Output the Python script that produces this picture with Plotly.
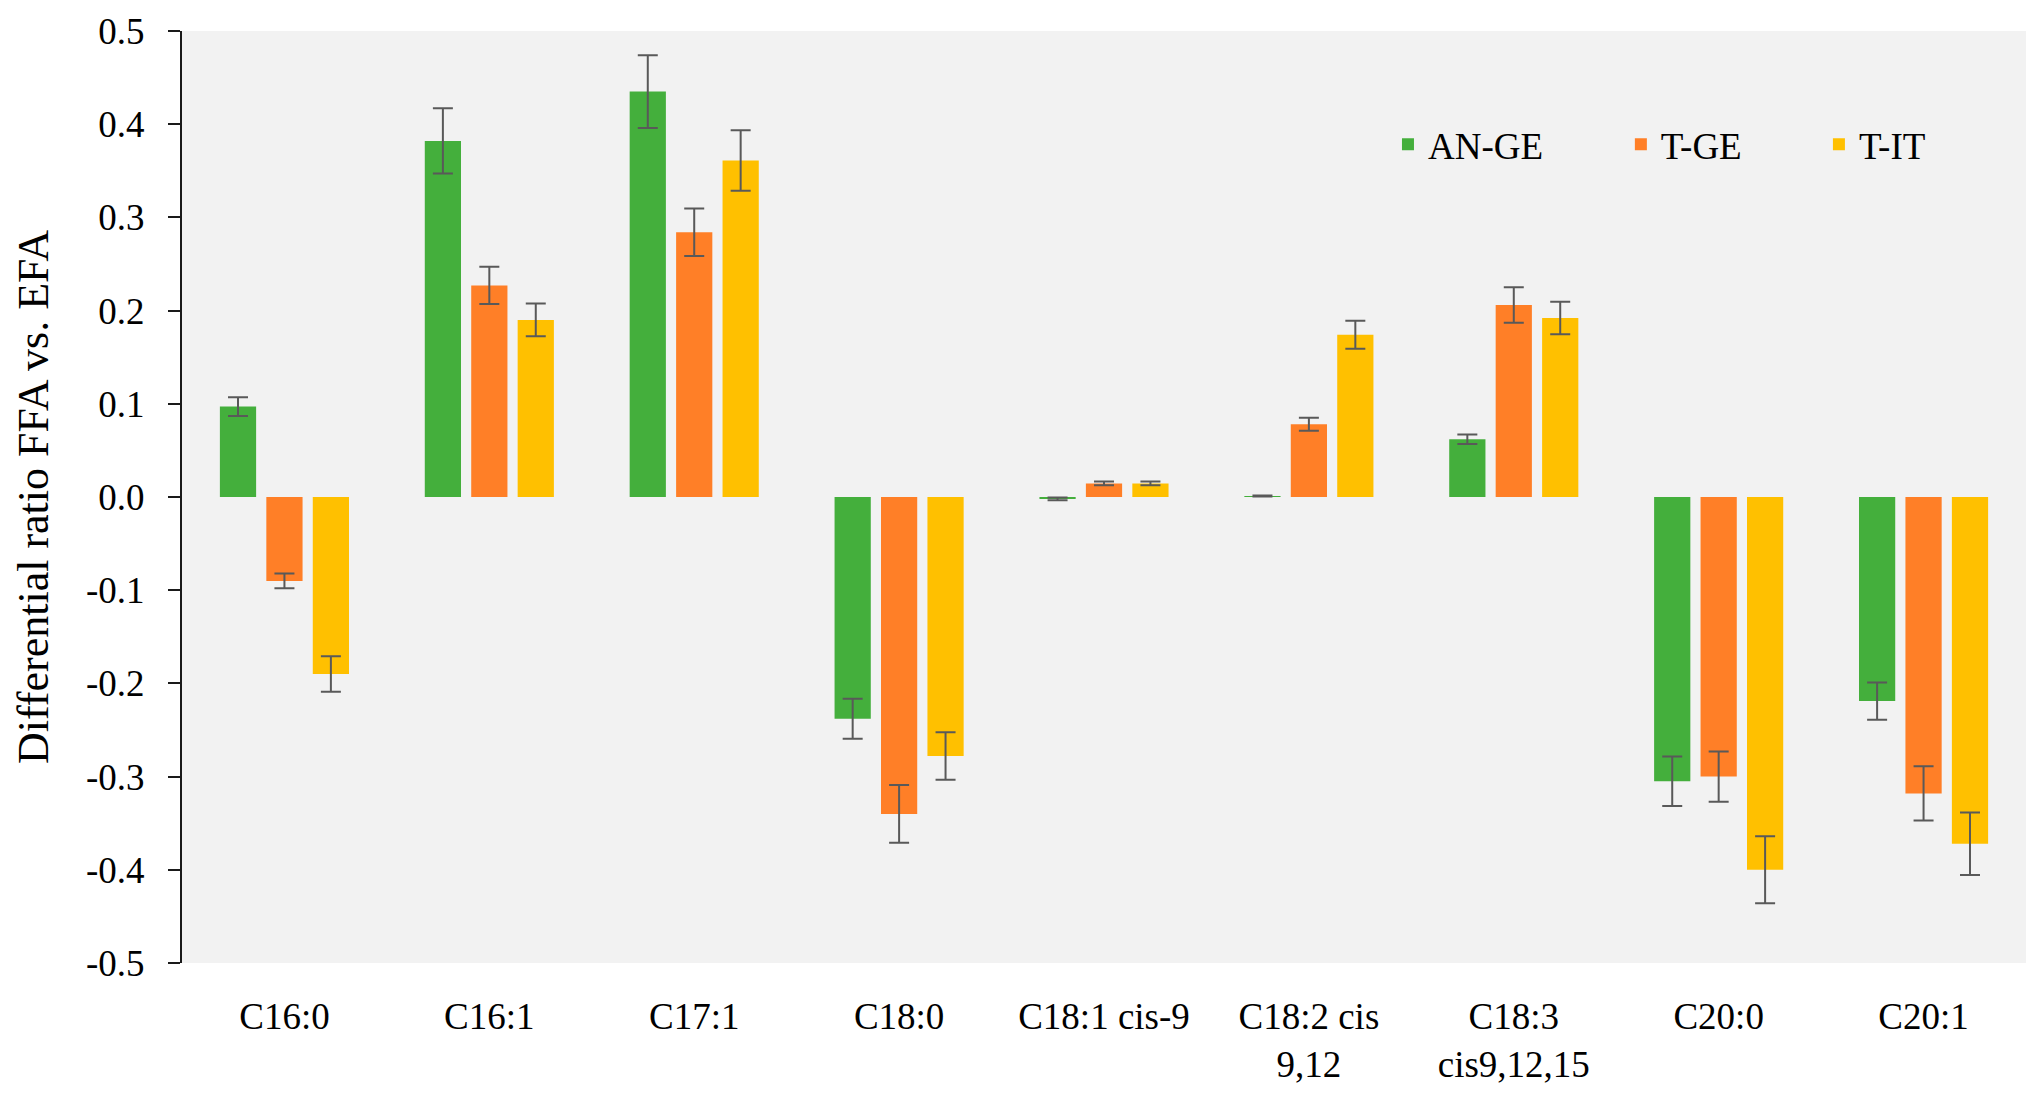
import plotly.graph_objects as go

categories = ["C16:0", "C16:1", "C17:1", "C18:0", "C18:1 cis-9",
              "C18:2 cis<br>9,12", "C18:3<br>cis9,12,15", "C20:0", "C20:1"]
series_names = ["AN-GE", "T-GE", "T-IT"]
an_ge = [0.097, 0.382, 0.435, -0.238, -0.002, 0.001, 0.062, -0.305, -0.219]
an_ge_err = [0.010, 0.035, 0.039, 0.0215, 0.0015, 0.0005, 0.005, 0.0265, 0.020]
t_ge = [-0.090, 0.227, 0.284, -0.340, 0.0145, 0.078, 0.206, -0.300, -0.318]
t_ge_err = [0.008, 0.020, 0.0255, 0.031, 0.002, 0.007, 0.019, 0.027, 0.029]
t_it = [-0.190, 0.190, 0.361, -0.278, 0.0145, 0.174, 0.192, -0.400, -0.372]
t_it_err = [0.019, 0.0175, 0.0325, 0.0255, 0.002, 0.015, 0.0175, 0.036, 0.0335]
colors = ["#44AF3C", "#FF7F27", "#FFC000"]
ytick_vals = [-0.5, -0.4, -0.3, -0.2, -0.1, 0.0, 0.1, 0.2, 0.3, 0.4, 0.5]
ytick_text = ["-0.5", "-0.4", "-0.3", "-0.2", "-0.1", "0.0", "0.1", "0.2", "0.3", "0.4", "0.5"]
boundary_ticks = [i - 0.5 for i in range(len(categories) + 1)]

FONT = "Liberation Serif"
FS = 37

legend_ids = ["legend", "legend2", "legend3"]
legend_x = [0.6540, 0.7803, 0.8877]

fig = go.Figure()
for name, vals, errs, col, lid in zip(series_names, [an_ge, t_ge, t_it],
                                      [an_ge_err, t_ge_err, t_it_err], colors,
                                      legend_ids):
    fig.add_trace(go.Bar(
        x=categories, y=vals, name=name, legend=lid,
        marker=dict(color=col, line=dict(color=col, width=0)),
        error_y=dict(type="data", array=errs, visible=True,
                     color="#595959", thickness=2, width=10),
    ))

legend_common = dict(orientation="h", y=0.878, xanchor="left", yanchor="middle",
                     bgcolor="rgba(0,0,0,0)", font=dict(family=FONT, size=FS))

fig.update_layout(
    width=2035, height=1090,
    margin=dict(l=174, r=17, t=23, b=135, autoexpand=False),
    paper_bgcolor="white",
    plot_bgcolor="#F2F2F2",
    barmode="group",
    bargap=0.32,
    bargroupgap=0.22,
    font=dict(family=FONT, size=FS, color="#000000"),
    showlegend=True,
    legend=dict(x=legend_x[0], **legend_common),
    legend2=dict(x=legend_x[1], **legend_common),
    legend3=dict(x=legend_x[2], **legend_common),
    xaxis=dict(
        type="category", showline=False, ticks="", showgrid=False,
        zeroline=False, tickfont=dict(family=FONT, size=FS),
        ticklabelstandoff=28,
    ),
    xaxis2=dict(
        overlaying="x", anchor="free", position=0.5, side="bottom",
        range=[-0.5, len(categories) - 0.5], tickmode="array",
        tickvals=boundary_ticks, showticklabels=False,
        ticks="outside", ticklen=12, tickwidth=2, tickcolor="#262626",
        showline=True, linecolor="#262626", linewidth=2,
        showgrid=False, zeroline=False,
    ),
    yaxis=dict(
        range=[-0.5, 0.5], tickmode="array", tickvals=ytick_vals,
        ticktext=ytick_text, showgrid=False, zeroline=False,
        showline=True, linecolor="#1a1a1a", linewidth=2,
        ticks="outside", ticklen=12, tickwidth=2, tickcolor="#1a1a1a",
        tickfont=dict(family=FONT, size=FS), ticklabelstandoff=16,
        title=dict(text="Differential ratio FFA vs. EFA",
                   font=dict(family=FONT, size=44), standoff=24),
    ),
)

fig.write_html("out.html")
